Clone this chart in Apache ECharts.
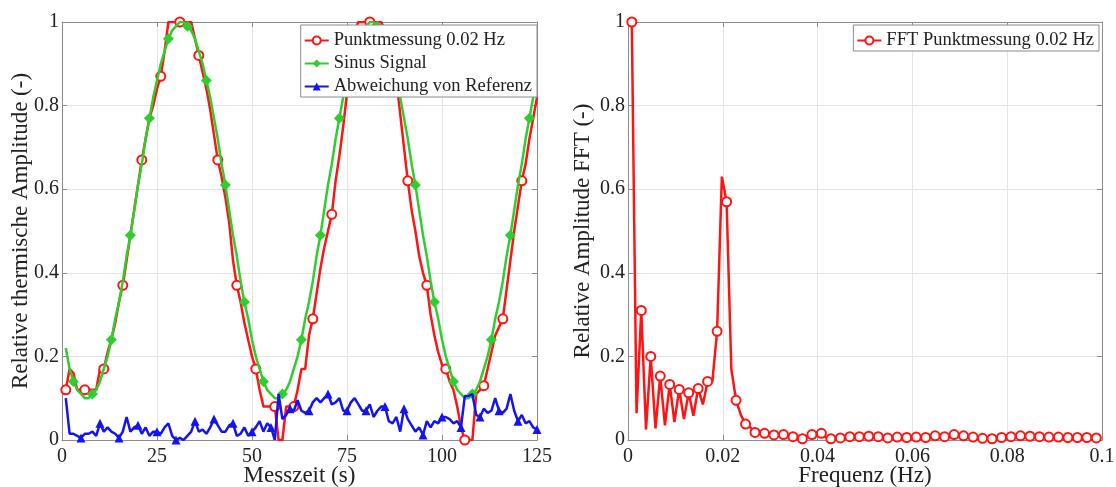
<!DOCTYPE html>
<html>
<head>
<meta charset="utf-8">
<script src="https://cdn.jsdelivr.net/npm/echarts@6/dist/echarts.min.js"></script>
<style>
html,body{margin:0;padding:0;background:#fff;}
#chart{width:1116px;height:487px;}
</style>
</head>
<body>
<div id="chart"></div>
<script>
// ---------- data ----------
var timeS = [];
for (var i = 1; i <= 125; i++) timeS.push(i);

var punktmessung = [
 0.12,0.17,0.16,0.12,0.12,0.12,0.12,0.12,0.12,0.17,
 0.17,0.21,0.24,0.28,0.33,0.37,0.43,0.49,0.55,0.61,
 0.67,0.72,0.77,0.80,0.84,0.87,0.93,1.00,1.00,1.00,
 1.00,1.00,1.00,1.00,0.96,0.92,0.88,0.84,0.79,0.73,
 0.67,0.63,0.58,0.52,0.43,0.37,0.33,0.28,0.24,0.20,
 0.17,0.12,0.08,0.08,0.08,0.08,0.00,0.00,0.08,0.08,
 0.08,0.12,0.17,0.17,0.25,0.29,0.35,0.41,0.46,0.50,
 0.54,0.62,0.68,0.75,0.83,0.92,0.98,1.00,1.00,1.00,
 1.00,1.00,1.00,1.00,0.98,0.95,0.90,0.86,0.78,0.70,
 0.62,0.55,0.50,0.44,0.40,0.37,0.30,0.25,0.21,0.18,
 0.17,0.14,0.12,0.08,0.03,0.00,0.00,0.00,0.11,0.12,
 0.13,0.17,0.21,0.25,0.27,0.29,0.36,0.43,0.50,0.56,
 0.62,0.66,0.72,0.77,0.82
];

var sinusSignal = [
 0.22,0.17,0.14,0.12,0.11,0.10,0.10,0.11,0.12,0.14,
 0.17,0.20,0.24,0.29,0.33,0.38,0.44,0.49,0.55,0.61,
 0.66,0.72,0.77,0.82,0.86,0.90,0.93,0.96,0.98,0.99,
 1.00,1.00,0.99,0.98,0.96,0.93,0.90,0.86,0.82,0.77,
 0.72,0.66,0.61,0.55,0.49,0.44,0.38,0.33,0.29,0.24,
 0.20,0.17,0.14,0.12,0.11,0.10,0.10,0.11,0.12,0.14,
 0.17,0.20,0.24,0.29,0.33,0.38,0.44,0.49,0.55,0.61,
 0.66,0.72,0.77,0.82,0.86,0.90,0.93,0.96,0.98,0.99,
 1.00,1.00,0.99,0.98,0.96,0.93,0.90,0.86,0.82,0.77,
 0.72,0.66,0.61,0.55,0.49,0.44,0.38,0.33,0.29,0.24,
 0.20,0.17,0.14,0.12,0.11,0.10,0.10,0.11,0.12,0.14,
 0.17,0.20,0.24,0.29,0.33,0.38,0.44,0.49,0.55,0.61,
 0.66,0.72,0.77,0.82,0.86
];

var abweichung = [
 0.10,0.015,0.015,0.01,0.005,0.015,0.015,0.02,0.01,0.04,
 0.02,0.03,0.02,0.015,0.005,0.02,0.055,0.02,0.03,0.035,
 0.015,0.03,0.01,0.02,0.02,0.015,0.03,0.04,0.01,0.0,
 0.005,0.0,0.01,0.02,0.045,0.02,0.025,0.015,0.03,0.05,
 0.035,0.02,0.02,0.035,0.04,0.01,0.015,0.03,0.01,0.02,
 0.03,0.045,0.02,0.04,0.03,0.0,0.11,0.05,0.06,0.075,
 0.07,0.095,0.07,0.065,0.07,0.09,0.10,0.09,0.10,0.11,
 0.085,0.09,0.10,0.07,0.07,0.09,0.10,0.085,0.07,0.07,
 0.085,0.055,0.07,0.08,0.08,0.045,0.04,0.055,0.02,0.075,
 0.05,0.035,0.02,0.03,0.012,0.045,0.03,0.045,0.04,0.055,
 0.055,0.05,0.04,0.045,0.03,0.105,0.105,0.11,0.06,0.055,
 0.075,0.065,0.07,0.10,0.07,0.065,0.075,0.11,0.07,0.045,
 0.06,0.04,0.045,0.03,0.025
];

var freqHz = [];
for (var k = 0; k < 100; k++) freqHz.push(+(0.0008 + 0.001 * k).toFixed(4));

var fftAmplitude = [
 1.0,0.064,0.31,0.025,0.20,0.028,0.153,0.035,0.133,0.043,
 0.121,0.05,0.113,0.058,0.123,0.085,0.14,0.14,0.26,0.63,
 0.57,0.17,0.095,0.06,0.038,0.03,0.018,0.02,0.016,0.015,
 0.012,0.01,0.013,0.01,0.008,0.005,0.003,0.008,0.013,0.018,
 0.016,0.006,0.003,0.006,0.005,0.004,0.008,0.006,0.008,0.007,
 0.009,0.007,0.008,0.006,0.005,0.006,0.007,0.005,0.006,0.006,
 0.007,0.006,0.006,0.008,0.01,0.009,0.008,0.01,0.013,0.012,
 0.01,0.008,0.007,0.005,0.004,0.003,0.003,0.004,0.006,0.007,
 0.008,0.009,0.01,0.009,0.009,0.008,0.008,0.008,0.007,0.006,
 0.007,0.006,0.006,0.005,0.006,0.007,0.006,0.005,0.005,0.005
];

var seriesNames = ['Punktmessung 0.02 Hz', 'Sinus Signal', 'Abweichung von Referenz'];
var fftName = 'FFT Punktmessung 0.02 Hz';
var xTitleLeft = 'Messzeit (s)';
var yTitleLeft = 'Relative thermische Amplitude (-)';
var xTitleRight = 'Frequenz (Hz)';
var yTitleRight = 'Relative Amplitude FFT (-)';

// ---------- helpers ----------
var FONT = '"Liberation Serif","Times New Roman",serif';
var RED = '#ff1414', GREEN = '#2fcd2f', BLUE = '#1414f0';

function withMarkers(xs, ys, start, step) {
  return ys.map(function (v, i) {
    var on = i >= start && (i - start) % step === 0;
    return on ? [xs[i], v] : { value: [xs[i], v], symbol: 'none' };
  });
}

function bottomAxis(grid, min, max, interval, name) {
  return {
    gridIndex: grid, type: 'value', position: 'bottom',
    min: min, max: max, interval: interval,
    name: name, nameLocation: 'middle', nameGap: 24, nameMoveOverlap: false,
    nameTextStyle: { fontFamily: FONT, fontSize: 23, color: '#222' },
    axisLine: { show: true, onZero: false, lineStyle: { color: '#8c8c8c', width: 1 } },
    axisTick: { show: true, inside: true, length: 5, lineStyle: { color: '#8c8c8c' } },
    axisLabel: { fontFamily: FONT, fontSize: 20, color: '#222', margin: 7 },
    splitLine: { show: true, lineStyle: { color: '#e4e4e4', width: 1 } }
  };
}
function topAxis(grid, min, max, interval) {
  return {
    gridIndex: grid, type: 'value', position: 'top',
    min: min, max: max, interval: interval,
    axisLine: { show: true, onZero: false, lineStyle: { color: '#8c8c8c', width: 1 } },
    axisTick: { show: true, inside: true, length: 5, lineStyle: { color: '#8c8c8c' } },
    axisLabel: { show: false }, splitLine: { show: false }
  };
}
function leftAxis(grid, name, gap) {
  return {
    gridIndex: grid, type: 'value', position: 'left',
    min: 0, max: 1, interval: 0.2,
    name: name, nameLocation: 'middle', nameGap: gap, nameMoveOverlap: false,
    nameTextStyle: { fontFamily: FONT, fontSize: 23, color: '#222' },
    axisLine: { show: true, onZero: false, lineStyle: { color: '#8c8c8c', width: 1 } },
    axisTick: { show: true, inside: true, length: 5, lineStyle: { color: '#8c8c8c' } },
    axisLabel: { fontFamily: FONT, fontSize: 20, color: '#222', margin: 3 },
    splitLine: { show: true, lineStyle: { color: '#e4e4e4', width: 1 } }
  };
}
function rightAxis(grid) {
  return {
    gridIndex: grid, type: 'value', position: 'right',
    min: 0, max: 1, interval: 0.2,
    axisLine: { show: true, onZero: false, lineStyle: { color: '#8c8c8c', width: 1 } },
    axisTick: { show: true, inside: true, length: 5, lineStyle: { color: '#8c8c8c' } },
    axisLabel: { show: false }, splitLine: { show: false }
  };
}

var legendBase = {
  orient: 'vertical', top: 25, itemWidth: 24, itemHeight: 10, itemGap: 4,
  padding: [6, 5, 1, 3], z: 20,
  backgroundColor: '#fff', borderColor: '#8c8c8c', borderWidth: 1, borderRadius: 0,
  textStyle: { fontFamily: FONT, fontSize: 18.5, color: '#222' },
  selectedMode: false
};

var option = {
  animation: false,
  backgroundColor: '#fff',
  grid: [
    { left: 62, right: 579, top: 22, bottom: 47, outerBoundsMode: 'none', containLabel: false },
    { left: 628, right: 14, top: 22, bottom: 47, outerBoundsMode: 'none', containLabel: false }
  ],
  xAxis: [
    bottomAxis(0, 0, 125, 25, xTitleLeft),
    topAxis(0, 0, 125, 25),
    bottomAxis(1, 0, 0.1, 0.02, xTitleRight),
    topAxis(1, 0, 0.1, 0.02)
  ],
  yAxis: [
    leftAxis(0, yTitleLeft, 30),
    rightAxis(0),
    leftAxis(1, yTitleRight, 34),
    rightAxis(1)
  ],
  legend: [
    Object.assign({}, legendBase, { right: 579, data: seriesNames }),
    Object.assign({}, legendBase, { right: 17, data: [fftName] })
  ],
  series: [
    {
      name: seriesNames[0], type: 'line', xAxisIndex: 0, yAxisIndex: 0, z: 3,
      data: withMarkers(timeS, punktmessung, 0, 5),
      symbol: 'emptyCircle', symbolSize: 9,
      lineStyle: { color: RED, width: 2.5 },
      itemStyle: { color: RED, borderWidth: 2 },
      emphasis: { disabled: true }
    },
    {
      name: seriesNames[1], type: 'line', xAxisIndex: 0, yAxisIndex: 0, z: 4,
      data: withMarkers(timeS, sinusSignal, 2, 5),
      symbol: 'diamond', symbolSize: 11,
      lineStyle: { color: GREEN, width: 2.5 },
      itemStyle: { color: GREEN },
      emphasis: { disabled: true }
    },
    {
      name: seriesNames[2], type: 'line', xAxisIndex: 0, yAxisIndex: 0, z: 5,
      data: withMarkers(timeS, abweichung, 4, 5),
      symbol: 'triangle', symbolSize: 9,
      lineStyle: { color: BLUE, width: 2.5 },
      itemStyle: { color: BLUE },
      emphasis: { disabled: true }
    },
    {
      name: fftName, type: 'line', xAxisIndex: 2, yAxisIndex: 2,
      data: withMarkers(freqHz, fftAmplitude, 0, 2),
      symbol: 'emptyCircle', symbolSize: 9,
      lineStyle: { color: RED, width: 2.5 },
      itemStyle: { color: RED, borderWidth: 2 },
      emphasis: { disabled: true }
    }
  ]
};

var chart = echarts.init(document.getElementById('chart'), null, { renderer: 'canvas' });
chart.setOption(option);
</script>
</body>
</html>
